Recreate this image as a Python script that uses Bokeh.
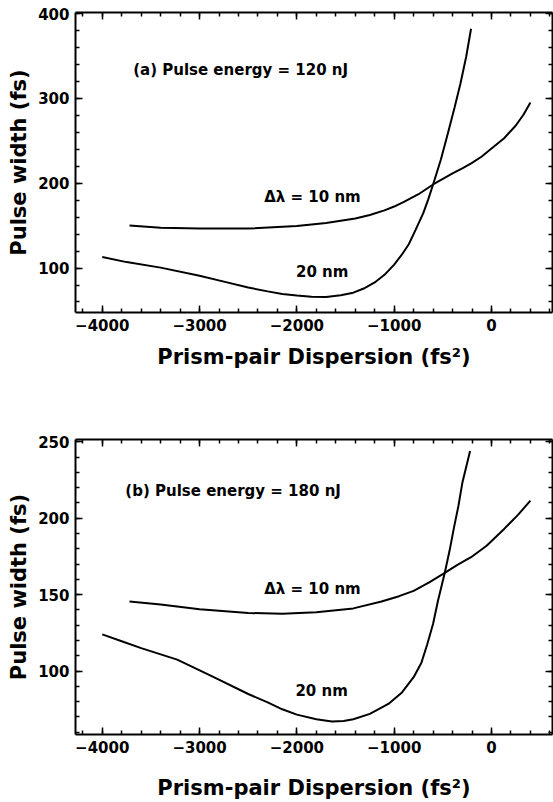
from bokeh.plotting import figure
from bokeh.models import LinearAxis, SingleIntervalTicker, Range1d, CustomJSTickFormatter
from bokeh.layouts import column
from bokeh.core.properties import value
from bokeh.embed import file_html
from bokeh.resources import INLINE

# ---- data ----
# (a) 120 nJ
a10_x = [-3720, -3400, -3000, -2500, -2000, -1700, -1400, -1250, -1100, -1000, -900, -750, -600,
         -500, -400, -300, -200, -100, 0, 130, 250, 330, 400]
a10_y = [150, 147.5, 146.5, 146.5, 149.5, 153, 158.5, 162.5, 168, 172.5, 178, 187, 198.5,
         205, 211.5, 217.5, 224, 231.5, 241, 253, 268, 281, 295]
a20_x = [-4000, -3750, -3400, -3000, -2750, -2500, -2300, -2150, -2000, -1850, -1700, -1550, -1420,
         -1300, -1200, -1100, -1000, -920, -850, -780, -700, -650, -600, -520, -450, -380, -320,
         -260, -210]
a20_y = [113, 107, 100.5, 91, 84, 77, 72.5, 69.5, 67.5, 66.3, 66, 68, 71,
         76.5, 83, 92, 104, 116, 128, 145, 165, 181, 198.5, 228, 258, 289, 317,
         349, 382]
# (b) 180 nJ
b10_x = [-3720, -3400, -3000, -2500, -2150, -1800, -1420, -1130, -950, -800, -640, -480, -350,
         -210, -50, 130, 270, 400]
b10_y = [145.5, 143.5, 140.5, 138, 137.5, 138.5, 141, 145.5, 149, 152.5, 158, 164.3, 169.5,
         174.5, 182, 193, 202, 211.5]
b20_x = [-4000, -3800, -3600, -3230, -2870, -2500, -2300, -2150, -2000, -1800, -1640, -1520, -1420,
         -1250, -1060, -920, -800, -720, -660, -600, -550, -480, -430, -385, -340, -300, -260, -220]
b20_y = [124, 119.5, 115, 107.5, 96.5, 85, 79.5, 75, 71.5, 68.5, 67, 67.3, 68.5,
         72, 78.5, 86, 96, 105.5, 117.5, 131, 146, 164.3, 179, 194, 208, 223, 233.5, 244]

x_ticks_interval = 1000
title_a = "(a) Pulse energy = 120 nJ"
title_b = "(b) Pulse energy = 180 nJ"
lab10 = "\u0394\u03bb = 10 nm"
lab20 = "20 nm"
x_title = "Prism-pair Dispersion (fs\u00b2)"
y_title = "Pulse width (fs)"

FONT = "DejaVu Sans"


def style_axis(ax, ticker, labels=True):
    ax.ticker = ticker
    ax.axis_line_width = 2
    ax.axis_line_color = "black"
    ax.major_tick_in = 7
    ax.major_tick_out = 0
    ax.minor_tick_in = 4
    ax.minor_tick_out = 0
    ax.major_tick_line_width = 1.5
    ax.minor_tick_line_width = 1.5
    ax.major_tick_line_color = "black"
    ax.minor_tick_line_color = "black"
    if labels:
        ax.major_label_text_font = FONT
        ax.major_label_text_font_style = "bold"
        ax.major_label_text_font_size = "15px"
        ax.major_label_text_color = "black"
    else:
        ax.formatter = CustomJSTickFormatter(code="return ''")
        ax.major_label_standoff = 0


def make_fig(height, y0, y1, yint, border_top, border_bottom, standoff, title_standoff):
    p = figure(width=553, height=height, x_range=Range1d(-4275, 627), y_range=Range1d(y0, y1),
               output_backend="svg", toolbar_location=None,
               min_border_left=75, min_border_right=1,
               min_border_top=border_top, min_border_bottom=border_bottom)
    p.grid.visible = False
    p.outline_line_color = None
    p.background_fill_color = "white"
    p.border_fill_color = "white"

    xa = p.xaxis[0]
    style_axis(xa, SingleIntervalTicker(interval=x_ticks_interval, num_minor_ticks=5))
    xa.major_label_standoff = standoff
    xa.axis_label = x_title
    xa.axis_label_text_font = FONT
    xa.axis_label_text_font_style = "bold"
    xa.axis_label_text_font_size = "21px"
    xa.axis_label_text_color = "black"
    xa.axis_label_standoff = title_standoff

    ya = p.yaxis[0]
    style_axis(ya, SingleIntervalTicker(interval=yint, num_minor_ticks=5))
    ya.major_label_standoff = 6
    ya.axis_label = y_title
    ya.axis_label_text_font = FONT
    ya.axis_label_text_font_style = "bold"
    ya.axis_label_text_font_size = "21px"
    ya.axis_label_text_color = "black"
    ya.axis_label_standoff = 4

    ra = LinearAxis()
    style_axis(ra, SingleIntervalTicker(interval=yint, num_minor_ticks=5), labels=False)
    p.add_layout(ra, "right")
    ta = LinearAxis()
    style_axis(ta, SingleIntervalTicker(interval=x_ticks_interval, num_minor_ticks=5), labels=False)
    p.add_layout(ta, "above")
    return p


def add_text(p, x, y, t, size):
    p.text(x=[x], y=[y], text=[t], text_font=value(FONT), text_font_style="bold",
           text_font_size=size, text_align="center", text_baseline="middle", text_color="black")


p1 = make_fig(381, 47.6, 401.2, 100, 12, 69, 6, 11)
p1.line(a10_x, a10_y, line_color="black", line_width=2)
p1.line(a20_x, a20_y, line_color="black", line_width=2)
add_text(p1, -2578, 333, title_a, "15px")
add_text(p1, -1840, 184, lab10, "15px")
add_text(p1, -1740, 95.5, lab20, "15px")

p2 = make_fig(421, 58.5, 251.5, 50, 58, 68, 6, 20)
p2.line(b10_x, b10_y, line_color="black", line_width=2)
p2.line(b20_x, b20_y, line_color="black", line_width=2)
add_text(p2, -2655, 218, title_b, "15px")
add_text(p2, -1840, 153.7, lab10, "15px")
add_text(p2, -1746, 87, lab20, "15px")

layout = column(p1, p2, spacing=0)
open("out.html", "w").write(file_html(layout, INLINE))
